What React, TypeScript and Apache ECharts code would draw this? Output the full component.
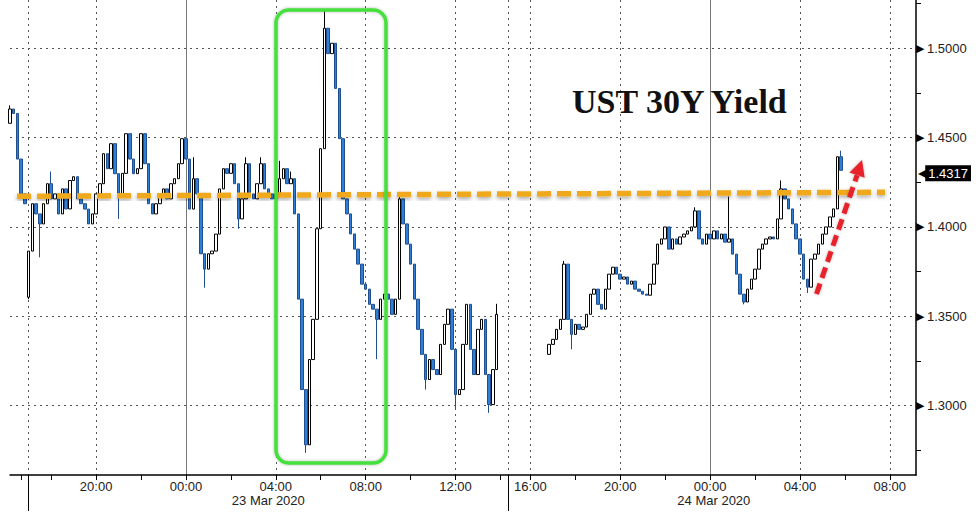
import React, { useEffect, useRef } from 'react';
import * as echarts from 'echarts';

// Trading sessions on the time axis (10-minute slots)
const SESSIONS = [
  { tradeDate: '', day: 22, start: '15:30', slots: 5 },
  { tradeDate: '23 Mar 2020', day: 22, start: '17:00', slots: 128 },
  { tradeDate: '24 Mar 2020', day: 23, start: '15:00', slots: 110 },
];

const TITLE = 'UST 30Y Yield';

// 10-minute closes, session of 23 Mar (from 22 Mar 15:30)
const closesA = [
  1.466, 1.4635, 1.438, 1.4185, 1.413, 1.3865, 1.413, 1.4073, 1.4017, 1.413,
  1.4242, 1.4157, 1.4185, 1.4073, 1.4213, 1.4101, 1.426, 1.4281, 1.4157, 1.413,
  1.41, 1.4017, 1.4073, 1.4185, 1.4242, 1.441, 1.4326, 1.4466, 1.4298, 1.4185,
  1.43, 1.4522, 1.438, 1.4298, 1.4326, 1.4522, 1.4354, 1.413, 1.4073, 1.413,
  1.4185, 1.4213, 1.4157, 1.4242, 1.427, 1.4354, 1.4494, 1.438, 1.41, 1.427,
  1.4185, 1.385, 1.3764, 1.385, 1.3865, 1.396, 1.4213, 1.4326, 1.43, 1.4354,
  1.4242, 1.4045, 1.4157, 1.4354, 1.4185, 1.4157, 1.4242, 1.4354, 1.4213, 1.4185,
  1.4157, 1.4185, 1.427, 1.4326, 1.4242, 1.427, 1.4073, 1.3596, 1.309, 1.2781,
  1.3258, 1.3483, 1.399, 1.4438, 1.5112, 1.497, 1.5028, 1.4775, 1.4494, 1.4157,
  1.4073, 1.3961, 1.3876, 1.3792, 1.368, 1.3652, 1.3567, 1.354, 1.3483, 1.3596,
  1.3624, 1.3596, 1.3511, 1.3596, 1.4157, 1.4017, 1.3904, 1.3792, 1.3596, 1.3427,
  1.3287, 1.3146, 1.3258, 1.3202, 1.3174, 1.3343, 1.3455, 1.354, 1.3315, 1.3062,
  1.309, 1.3343, 1.3567, 1.3315, 1.3174, 1.3427, 1.3483, 1.3174, 1.3006, 1.3202,
  1.3511,
];

// 10-minute closes, session of 24 Mar (from 23 Mar 16:50)
const closesB = [
  1.3343, 1.3371, 1.3427, 1.3483, 1.3792, 1.3483, 1.3399, 1.3455, 1.3427, 1.344,
  1.3511, 1.3624, 1.3652, 1.3567, 1.354, 1.3652, 1.3736, 1.3775, 1.3736, 1.3708,
  1.372, 1.368, 1.3697, 1.3652, 1.364, 1.3624, 1.3618, 1.368, 1.3792, 1.3904,
  1.3933, 1.4, 1.3876, 1.3933, 1.3904, 1.3944, 1.396, 1.3978, 1.4, 1.409,
  1.3933, 1.3904, 1.396, 1.3933, 1.3978, 1.3933, 1.396, 1.3915, 1.3933, 1.3848,
  1.3736, 1.3624, 1.358, 1.3652, 1.3708, 1.3764, 1.3876, 1.3904, 1.3933, 1.3944,
  1.3933, 1.4045, 1.4213, 1.4157, 1.4101, 1.4017, 1.3933, 1.3848, 1.3708, 1.3663,
  1.382, 1.3848, 1.3904, 1.396, 1.4, 1.4056, 1.4101, 1.4393, 1.4317,
];

const seriesStarts: [string, number[]][] = [
  ['22 Mar 15:30', closesA],
  ['23 Mar 16:50', closesB],
];

// opens that gap away from the previous close
const gapOpens: [string, number][] = [
  ['22 Mar 15:30', 1.458],
  ['22 Mar 17:00', 1.3607],
  ['23 Mar 16:50', 1.3287],
];

const wickHighs: [string, number][] = [
  ['22 Mar 15:30', 1.468],
  ['22 Mar 18:00', 1.431],
  ['23 Mar 00:20', 1.439],
  ['23 Mar 02:40', 1.439],
  ['23 Mar 03:20', 1.439],
  ['23 Mar 04:10', 1.437],
  ['23 Mar 04:40', 1.431],
  ['23 Mar 06:10', 1.5214],
  ['23 Mar 09:30', 1.417],
  ['23 Mar 13:50', 1.357],
  ['23 Mar 17:30', 1.381],
  ['23 Mar 23:20', 1.411],
  ['24 Mar 00:50', 1.417],
  ['24 Mar 03:10', 1.426],
  ['24 Mar 05:50', 1.4427],
];

const wickLows: [string, number][] = [
  ['22 Mar 17:00', 1.3596],
  ['22 Mar 17:30', 1.383],
  ['22 Mar 21:00', 1.4045],
  ['23 Mar 00:50', 1.366],
  ['23 Mar 02:20', 1.399],
  ['23 Mar 05:20', 1.2736],
  ['23 Mar 08:30', 1.326],
  ['23 Mar 10:40', 1.309],
  ['23 Mar 12:00', 1.298],
  ['23 Mar 13:30', 1.296],
  ['23 Mar 17:50', 1.3315],
  ['24 Mar 01:30', 1.3567],
  ['24 Mar 04:20', 1.363],
];

const yMajor = [1.3, 1.35, 1.4, 1.45, 1.5];
const yMinor = [1.275, 1.325, 1.375, 1.425, 1.475, 1.525];
const Y_MIN = 1.2612;
const Y_MAX = 1.527;

function toMin(s: string) {
  const [h, m] = s.split(':').map(Number);
  return h * 60 + m;
}

const categories: string[] = [];
const sessionOf: number[] = [];
const sessionStartIdx: number[] = [];
SESSIONS.forEach((s, si) => {
  sessionStartIdx.push(categories.length);
  const base = toMin(s.start);
  for (let k = 0; k < s.slots; k++) {
    const t = base + k * 10;
    const day = s.day + Math.floor(t / 1440);
    const mm = t % 1440;
    const hh = String(Math.floor(mm / 60)).padStart(2, '0');
    const mi = String(mm % 60).padStart(2, '0');
    categories.push(`${day} Mar ${hh}:${mi}`);
    sessionOf.push(si);
  }
});

const hourOf = (i: number) => Number(categories[i].slice(-5, -3));
const minOf = (i: number) => Number(categories[i].slice(-2));
const isTick = (i: number) => minOf(i) === 0 && hourOf(i) % 2 === 0;
const isLabel = (i: number) =>
  minOf(i) === 0 && hourOf(i) % 4 === 0 && SESSIONS[sessionOf[i]].tradeDate !== '';
const isMidnight = (i: number) => isLabel(i) && hourOf(i) === 0;
const isSeparator = (i: number) => sessionOf[i] > 0 && sessionStartIdx[sessionOf[i]] === i;
const dateLabelIdx = SESSIONS.map((s, si) =>
  s.tradeDate ? sessionStartIdx[si] + Math.ceil((s.slots - 1) / 2) : -1
);

function buildOHLC() {
  const out: any[] = categories.map(() => ['-', '-', '-', '-']);
  seriesStarts.forEach(([startKey, closes]) => {
    const idx = categories.indexOf(startKey);
    let prev: number | null = null;
    closes.forEach((c, j) => {
      const key = categories[idx + j];
      const gap = gapOpens.find((g) => g[0] === key);
      const o = gap ? gap[1] : prev !== null ? prev : c;
      let lo = Math.min(o, c);
      let hi = Math.max(o, c);
      wickHighs.forEach(([k, v]) => { if (k === key) hi = Math.max(hi, v); });
      wickLows.forEach(([k, v]) => { if (k === key) lo = Math.min(lo, v); });
      out[idx + j] = [o, c, lo, hi];
      prev = c;
    });
  });
  return out;
}

const lastValue = closesB[closesB.length - 1];

export default function App() {
  const ref = useRef<HTMLDivElement>(null);
  useEffect(() => {
    document.body.style.margin = '0';
    if (!ref.current) return;
    const chart = echarts.init(ref.current, undefined, { renderer: 'svg' });
    const font = '"Liberation Sans", Arial, sans-serif';
    chart.setOption({
      animation: false,
      backgroundColor: '#ffffff',
      textStyle: { fontFamily: font },
      grid: { left: 10, right: 60, top: 0, bottom: 38, containLabel: false },
      xAxis: [
        {
          type: 'category',
          data: categories,
          boundaryGap: false,
          axisLine: { show: true, lineStyle: { color: '#000', width: 1.5 } },
          axisTick: {
            show: true,
            interval: (i: number) => isTick(i),
            length: 5,
            lineStyle: { color: '#000', width: 1 },
          },
          axisLabel: {
            interval: (i: number) => isLabel(i),
            formatter: (v: string) => v.slice(-5),
            fontSize: 13,
            color: '#222',
            margin: 5,
            fontFamily: font,
          },
          splitLine: {
            show: true,
            interval: (i: number) => (isLabel(i) && !isMidnight(i)) || isSeparator(i),
            lineStyle: { color: '#555', width: 1, type: [2, 4] },
          },
        },
        {
          type: 'category',
          data: categories,
          boundaryGap: false,
          position: 'bottom',
          axisLine: { show: false },
          axisTick: {
            show: true,
            interval: (i: number) => isSeparator(i),
            length: 36,
            lineStyle: { color: '#000', width: 1 },
          },
          axisLabel: {
            interval: (i: number) => dateLabelIdx.includes(i),
            formatter: (_v: string, i: number) => SESSIONS[sessionOf[i]].tradeDate,
            fontSize: 13,
            color: '#222',
            margin: 19,
            fontFamily: font,
          },
          splitLine: {
            show: true,
            interval: (i: number) => isMidnight(i),
            lineStyle: { color: '#777', width: 1, type: 'solid' },
          },
        },
      ],
      yAxis: [
        {
          type: 'value',
          position: 'right',
          min: Y_MIN,
          max: Y_MAX,
          splitNumber: 5,
          axisLine: { show: true, lineStyle: { color: '#000', width: 1.5 } },
          axisTick: { show: false },
          splitLine: {
            show: true,
            showMinLine: false,
            showMaxLine: false,
            lineStyle: { color: '#555', width: 1, type: [2, 4] },
          },
          axisLabel: {
            customValues: yMajor,
            margin: 0,
            formatter: (v: number) => `{t|\u25B6}{v|${v.toFixed(4)}}`,
            rich: {
              t: { fontSize: 11, width: 11, color: '#000', fontFamily: '"DejaVu Sans"' },
              v: { fontSize: 13, color: '#222', fontFamily: font },
            },
          },
        },
        {
          type: 'value',
          position: 'right',
          min: Y_MIN,
          max: Y_MAX,
          axisLine: { show: false },
          axisLabel: { show: false },
          splitLine: { show: false },
          axisTick: {
            show: true,
            customValues: yMinor,
            length: 5,
            lineStyle: { color: '#000', width: 1 },
          },
        },
      ],
      series: [
        {
          type: 'candlestick',
          xAxisIndex: 0,
          yAxisIndex: 0,
          data: buildOHLC(),
          barWidth: 3,
          itemStyle: {
            color: '#ffffff',
            color0: '#2f7fd6',
            borderColor: '#000000',
            borderColor0: '#1f4f8f',
            borderWidth: 1,
          },
          markLine: {
            silent: true,
            symbol: ['none', 'none'],
            lineStyle: { color: 'rgba(0,0,0,0)', width: 0 },
            data: [{ yAxis: lastValue }],
            label: {
              show: true,
              position: 'end',
              distance: 2,
              formatter: () => `{a|\u25C0}{b|${lastValue.toFixed(4)}}`,
              rich: {
                a: { fontSize: 12, color: '#000', fontFamily: '"DejaVu Sans"', padding: [0, -2, 0, 0] },
                b: {
                  fontSize: 13,
                  color: '#fff',
                  backgroundColor: '#000',
                  padding: [2, 3, 1, 3],
                  fontFamily: font,
                },
              },
            },
          },
        },
      ],
      graphic: [
        {
          type: 'text',
          x: 572,
          y: 101,
          z: 100,
          style: {
            text: TITLE,
            fontFamily: '"Liberation Serif", "Times New Roman", serif',
            fontWeight: 'bold',
            fontSize: 34,
            fill: '#111',
            verticalAlign: 'middle',
          },
        },
        {
          type: 'line',
          z: 100,
          shape: { x1: 17, y1: 196.3, x2: 885, y2: 192.3 },
          style: {
            stroke: '#f0a91f',
            lineWidth: 5.5,
            lineDash: [14, 6],
            shadowBlur: 4,
            shadowColor: 'rgba(0,0,0,0.35)',
            shadowOffsetY: 2,
          },
        },
        {
          type: 'rect',
          z: 100,
          shape: { x: 276, y: 10, width: 110, height: 453, r: 13 },
          style: {
            fill: 'none',
            stroke: '#44e03a',
            lineWidth: 3.5,
            shadowBlur: 3,
            shadowColor: 'rgba(0,0,0,0.3)',
          },
        },
        {
          type: 'line',
          z: 100,
          shape: { x1: 816.5, y1: 294, x2: 857.1, y2: 175.2 },
          style: {
            stroke: '#e8232b',
            lineWidth: 5,
            lineDash: [11, 6],
            shadowBlur: 3,
            shadowColor: 'rgba(0,0,0,0.3)',
          },
        },
        {
          type: 'polygon',
          z: 100,
          shape: { points: [[862, 160], [849.5, 172.6], [864.7, 177.8]] },
          style: { fill: '#e8232b', shadowBlur: 3, shadowColor: 'rgba(0,0,0,0.3)' },
        },
      ],
    });
    return () => chart.dispose();
  }, []);
  return <div ref={ref} style={{ width: 976, height: 513 }} />;
}
